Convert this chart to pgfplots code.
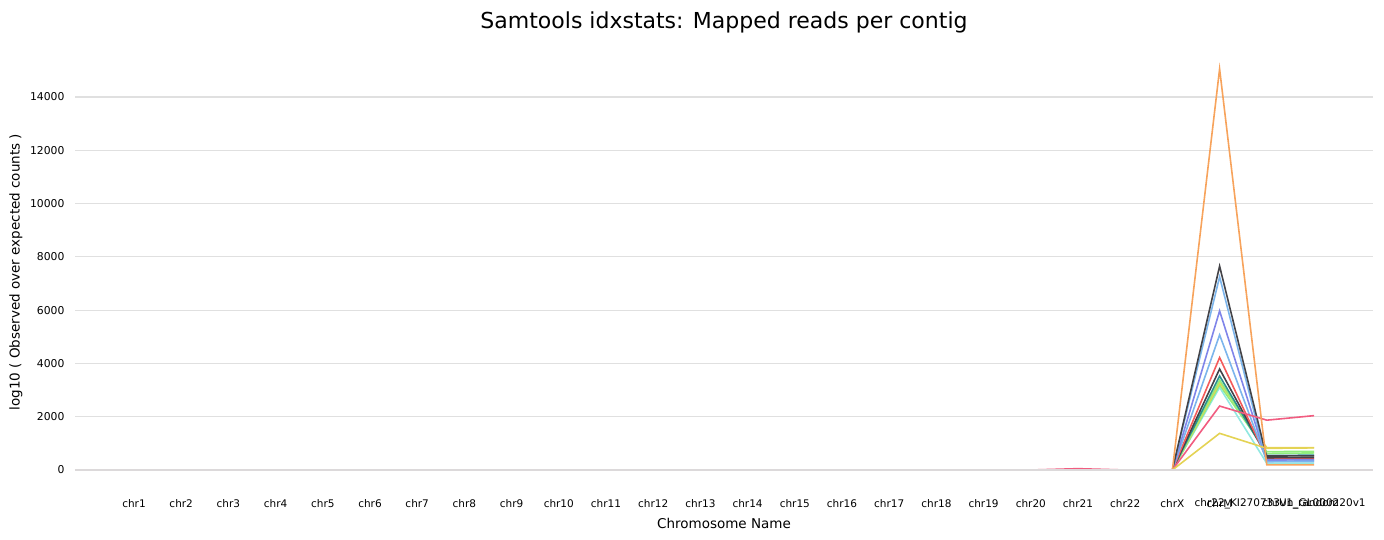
\documentclass[border=0pt]{standalone}
\usepackage{pgfplots}
\usepackage{pgfplotstable}
\pgfplotsset{compat=1.18}
\usepackage{fontspec}
\setmainfont{DejaVu Sans}
\definecolor{cOrange}{HTML}{F7A35C}
\definecolor{cDark}{HTML}{434348}
\definecolor{cLBlue}{HTML}{7CB5EC}
\definecolor{cPurple}{HTML}{8085E9}
\definecolor{cPink}{HTML}{F15C80}
\definecolor{cYellow}{HTML}{E4D354}
\definecolor{cTeal}{HTML}{2B908F}
\definecolor{cRed}{HTML}{F45B5B}
\definecolor{cCyan}{HTML}{91E8E1}
\definecolor{cGreen}{HTML}{90ED7D}
\definecolor{gridgrey}{HTML}{E0E0E0}
\definecolor{zerogrey}{HTML}{DCD9DA}
\pgfplotstableread{
idx s1 s2 s3 s4 s5 s6 s7 s8 s9 s10 s11 s12 s13 s14
0 0 0 0 0 0 0 0 0 0 0 0 0 0 0
1 0 0 0 0 0 0 0 0 0 0 0 0 0 0
2 0 0 0 0 0 0 0 0 0 0 0 0 0 0
3 0 0 0 0 0 0 0 0 0 0 0 0 0 0
4 0 0 0 0 0 0 0 0 0 0 0 0 0 0
5 0 0 0 0 0 0 0 0 0 0 0 0 0 0
6 0 0 0 0 0 0 0 0 0 0 0 0 0 0
7 0 0 0 0 0 0 0 0 0 0 0 0 0 0
8 0 0 0 0 0 0 0 0 0 0 0 0 0 0
9 0 0 0 0 0 0 0 0 0 0 0 0 0 0
10 0 0 0 0 0 0 0 0 0 0 0 0 0 0
11 0 0 0 0 0 0 0 0 0 0 0 0 0 0
12 0 0 0 0 0 0 0 0 0 0 0 0 0 0
13 0 0 0 0 0 0 0 0 0 0 0 0 0 0
14 0 0 0 0 0 0 0 0 0 0 0 0 0 0
15 0 0 0 0 0 0 0 0 0 0 0 0 0 0
16 0 0 0 0 0 0 0 0 0 0 0 0 0 0
17 0 0 0 0 0 0 0 0 0 0 0 0 0 0
18 0 0 0 0 0 0 0 0 0 0 0 0 0 0
19 0 0 0 0 0 0 0 0 0 0 0 0 0 0
20 0 0 0 0 0 0 0 0 0 0 0 0 50 0
21 0 0 0 0 0 0 0 0 0 0 0 0 0 0
22 0 0 0 0 0 0 0 0 0 0 0 0 0 0
23 15050 7650 7250 5970 5070 4220 3790 3530 3380 3280 3190 3100 2400 1376
24 190 460 310 375 330 425 525 545 625 837 688 250 1870 812
25 190 470 320 380 340 430 530 555 640 840 700 260 2040 830
}\data
\begin{document}
\begin{tikzpicture}
\path[use as bounding box] (-75pt,-70pt) rectangle (1309pt,470pt);
\begin{axis}[
  at={(0pt,0pt)}, anchor=south west,
  scale only axis, width=1298pt, height=413pt,
  xmin=-1.25, xmax=26.25, ymin=0, ymax=15500,
  clip=false,
  axis line style={draw=none},
  major tick length=0pt,
  ymajorgrids, grid style={color=gridgrey, line width=1.2pt},
  ytick={0,2000,4000,6000,8000,10000,12000,14000},
  scaled y ticks=false,
  yticklabel={\pgfmathprintnumber[fixed,precision=0,1000 sep={},assume math mode=true]{\tick}},
  yticklabel style={font=\fontsize{10.8}{12}\selectfont, xshift=-7pt},
  xtick={0,...,25},
  xticklabels={chr1,chr2,chr3,chr4,chr5,chr6,chr7,chr8,chr9,chr10,chr11,chr12,chr13,chr14,chr15,chr16,chr17,chr18,chr19,chr20,chr21,chr22,chrX,chrM,chr22\_KI270733v1\_random,chrUn\_GL000220v1},
  xticklabel style={font=\fontsize{10.5}{12}\selectfont, anchor=center, yshift=-34pt},
  title={Samtools idxstats: Mapped reads per contig},
  title style={font=\fontsize{22}{26}\selectfont, at={(axis description cs:0.5,1)}, anchor=center, yshift=29pt},
  xlabel={Chromosome Name},
  xlabel style={font=\fontsize{13.5}{16}\selectfont, at={(axis description cs:0.5,0)}, anchor=center, yshift=-53pt},
  ylabel={log10 ( Observed over expected counts )},
  ylabel style={font=\fontsize{13.5}{16}\selectfont, at={(axis description cs:-0.0455,0.479)}, anchor=center, rotate=0},
  every axis plot/.append style={line width=1.6pt, mark=none},
]
\addplot[cCyan] table[x=idx,y=s12]{\data};
\addplot[cGreen] table[x=idx,y=s11]{\data};
\addplot[cYellow] table[x=idx,y=s10]{\data};
\addplot[cGreen] table[x=idx,y=s9]{\data};
\addplot[cTeal] table[x=idx,y=s8]{\data};
\addplot[cDark] table[x=idx,y=s7]{\data};
\addplot[cRed] table[x=idx,y=s6]{\data};
\addplot[cLBlue] table[x=idx,y=s5]{\data};
\addplot[cPurple] table[x=idx,y=s4]{\data};
\addplot[cLBlue] table[x=idx,y=s3]{\data};
\addplot[cDark] table[x=idx,y=s2]{\data};
\addplot[cPink] table[x=idx,y=s13]{\data};
\addplot[cYellow] table[x=idx,y=s14]{\data};
\addplot[cOrange] table[x=idx,y=s1]{\data};
\addplot[zerogrey, line width=2.5pt] coordinates {(-1.25,0) (26.25,0)};
\end{axis}
\end{tikzpicture}
\end{document}
